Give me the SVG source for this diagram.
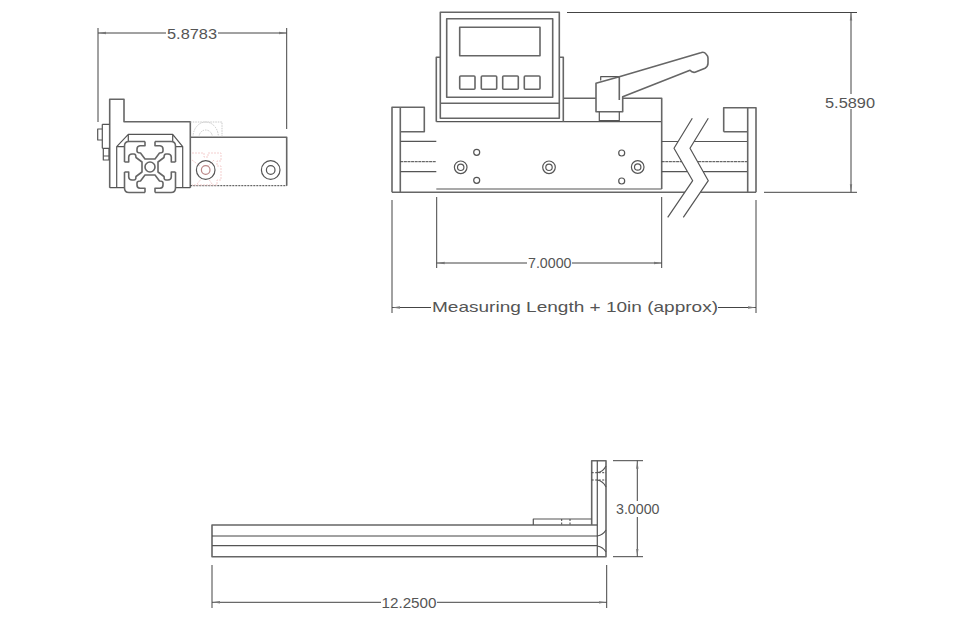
<svg xmlns="http://www.w3.org/2000/svg" width="970" height="620" viewBox="0 0 970 620">
<style>
text{font-family:"Liberation Sans",Arial,sans-serif;font-size:15px;fill:#555}
.l,.t,.g,.p,.d{fill:none;stroke:#555;stroke-width:1.2;stroke-linejoin:round}
.t{stroke-width:1.6;stroke:#666}
.d{stroke:#444;stroke-width:1}
.g{stroke:#bbb;stroke-width:.8;stroke-dasharray:1.5 1}
.p{stroke:#f3c9c9;stroke-width:.9;stroke-dasharray:2 1}
.r{stroke:#b88}
</style>
<defs>
<marker id="a" viewBox="0 0 8 4" refX="0" refY="2" markerWidth="8" markerHeight="4" markerUnits="userSpaceOnUse" orient="auto"><path d="M0 2L8 .8V3.200Z" fill="#777"/></marker>
<g id="q"><path class="t" d="M-5 -25.500V-21.300H-10Q-13 -21 -13 -18V-16Q-13 -14 -9.500 -14L-5 -8H0M-8 0V-5L-14 -9.500Q-14 -13 -16 -13H-18Q-21 -13 -21.300 -10V-5H-25.500M-25.500 -5V-21Q-25.500 -25.500 -21 -25.500H-5"/></g>
</defs>
<g id="side-view">
<path class="t" d="M109.700 187.700V99.300H124V121.700H190.300V187.700"/>
<path class="l" d="M109.700 187.700H124M176 187.700H190.300M116.700 187.700V146.700L128.300 134.300H172.700L182.700 146.700V187.700M128.300 134.300V141.700M172.700 134.300V141.700M116.700 146.700H124M176 146.700H182.700"/>
<path class="l" d="M102.300 124.300H109.700M102.300 148.300H109.700M102.300 124.300V148.300M97.700 129H102.300V140H97.700ZM103.300 148.300V160H109V148.300M103.300 156H109"/>
<path class="t" d="M190.300 137.300H286.700V185.700"/>
<path class="d" stroke-dasharray="2 1" d="M190.300 185.700H286.700"/>
<path class="g" d="M190.300 122H222V137"/>
<path class="g" d="M193 137A12.700 15 0 0 1 218.400 137M199 137A6.700 7 0 0 1 212.400 137"/>
<path class="p" d="M192 153H204V157H208V153H221V161H217V166H221V180H217V185H192M192 160L200 166M214 160L208 166M197 184L202 178M212 184L208 178"/>
<circle class="l" cx="205.700" cy="170" r="9.300"/>
<circle class="l r" cx="205.700" cy="170" r="4.300"/>
<circle class="l" cx="270.700" cy="170" r="9.300"/>
<circle class="l" cx="270.700" cy="170" r="4.300"/>
</g>
<g id="extrusion">
<use href="#q" transform="translate(150 167)"/>
<use href="#q" transform="translate(150 167) rotate(90)"/>
<use href="#q" transform="translate(150 167) rotate(180)"/>
<use href="#q" transform="translate(150 167) rotate(270)"/>
<circle class="t" cx="150" cy="167" r="5"/>
</g>
<g id="front-view">
<path class="t" d="M392 192.300V107.300H424.300V131.700H400.300M400.300 107.300V192.300"/>
<path class="l" d="M400.300 141.300H436.300M400.300 171.700H436.300"/>
<path class="d" stroke-dasharray="3 .6" d="M400.300 161.700H436.300"/>
<path class="t" d="M392 192.300H685M700.500 192.300H756"/>
<path class="l" d="M436.300 189H661.700M436.300 121.700H661.700"/>
<path class="t" d="M436.300 121.700V57.300H440.300M559.300 57.300H563.300V121.700"/>
<path class="t" d="M661.700 189V98.300H622.700M596 98.300H563.300"/>
<path class="l" d="M661.700 141.500H678M694 141.500H747.700M661.700 171.700H687M703 171.700H747.700"/>
<path class="d" stroke-dasharray="3 .6" d="M661.700 161.700H682M698 161.700H747.700"/>
<path class="t" d="M723.700 131.700V107.700H756V192.300M723.700 131.700H747.700M747.700 107.700V192.300"/>
<path class="l" d="M692.300 118.300L674 148.300L692.700 180.700L667.700 217.300M708.300 118.300L690 148.300L708.300 180.700L683.300 217.300"/>
<circle class="l" cx="460.700" cy="167.300" r="6.300"/><circle class="l" cx="460.700" cy="167.300" r="3.200"/>
<circle class="l" cx="549" cy="167.300" r="6.300"/><circle class="l" cx="549" cy="167.300" r="3.200"/>
<circle class="l" cx="637.700" cy="167" r="6.300"/><circle class="l" cx="637.700" cy="167" r="3.200"/>
<circle class="l" cx="476.700" cy="152.300" r="3"/><circle class="l" cx="476.700" cy="180.300" r="3"/>
<circle class="l" cx="621.700" cy="153" r="3"/><circle class="l" cx="621.700" cy="181" r="3"/>
</g>
<g id="display">
<rect class="t" x="440.300" y="12.300" width="119" height="106"/>
<rect class="t" x="446.700" y="18.700" width="106" height="78.600"/>
<path class="t" d="M440.300 103.300H559.300"/>
<rect class="t" x="459.700" y="27.300" width="80.300" height="28.400"/>
<rect class="t" x="459.700" y="76" width="15.300" height="13.300" rx="1"/>
<rect class="t" x="481.300" y="76" width="15.400" height="13.300" rx="1"/>
<rect class="t" x="502.700" y="76" width="15.600" height="13.300" rx="1"/>
<rect class="t" x="524.300" y="76" width="15.700" height="13.300" rx="1"/>
</g>
<g id="clamp-handle">
<path class="l" d="M600.700 80.500V76.700H619.300"/>
<path class="t" d="M596 83.300L619.300 76.700L700.700 52.700Q704 51.500 706 54Q708 56 708 58V63.300Q708 66.500 705 68.300L695 72.300Q692 72.800 690 70.300L622.700 96.700V111.700H596ZM619.300 76.700V100"/>
<path class="l" d="M599.300 111.700V121.700M619.300 111.700V121.700M599.300 120.500H619.300"/>
</g>
<g id="bottom-view">
<path class="t" d="M597.300 525H212V556.700H606V460.700H591.700V525"/>
<path class="l" d="M212 545.700H597.300M533.300 525V519H591.700M597.300 460.700V556.700"/>
<path class="d" d="M212 536H597.300"/>
<path class="d" stroke-dasharray="2 1.500" d="M591.700 472.700H606M591.700 480H606M561.700 519V525M570 519V525"/>
<path class="l" d="M597.300 472.700Q603 472 606 466M597.300 480Q603 481 606 487M597.300 536Q603 535 606 530M597.300 546Q603 547 606 552"/>
</g>
<g id="connectors">
<path class="d" d="M98 28V122M286.700 28V129M567 12.500H857M764 192.300H857M613 460.700H643M613 556.700H643"/>
<path class="d" d="M436.700 197V268M661.700 197V268M392 200V313M756 200V313M212 565V608M606.700 565V608"/>
<path class="d" marker-start="url(#a)" d="M98 33H166"/><path class="d" marker-start="url(#a)" d="M286.700 33H218"/>
<path class="d" marker-start="url(#a)" d="M851 12.500V94"/><path class="d" marker-start="url(#a)" d="M851 192.300V109"/>
<path class="d" marker-start="url(#a)" d="M436.700 263H527"/><path class="d" marker-start="url(#a)" d="M661.700 263H572"/>
<path class="d" marker-start="url(#a)" d="M392 307.500H431"/><path class="d" marker-start="url(#a)" d="M756 307.500H718"/>
<path class="d" marker-start="url(#a)" d="M637.300 460.700V501"/><path class="d" marker-start="url(#a)" d="M637.300 556.700V517"/>
<path class="d" marker-start="url(#a)" d="M212 602.300H381"/><path class="d" marker-start="url(#a)" d="M606.700 602.300H437"/>
</g>
<g id="labels">
<text x="167" y="38.500" textLength="50" lengthAdjust="spacingAndGlyphs">5.8783</text>
<text x="825" y="107.500" textLength="50" lengthAdjust="spacingAndGlyphs">5.5890</text>
<text x="528" y="268" textLength="43.500" lengthAdjust="spacingAndGlyphs">7.0000</text>
<text x="432" y="312" textLength="286" lengthAdjust="spacingAndGlyphs">Measuring Length + 10in (approx)</text>
<text x="616" y="514" textLength="43.500" lengthAdjust="spacingAndGlyphs">3.0000</text>
<text x="381.500" y="607.500" textLength="55" lengthAdjust="spacingAndGlyphs">12.2500</text>
</g>
</svg>
